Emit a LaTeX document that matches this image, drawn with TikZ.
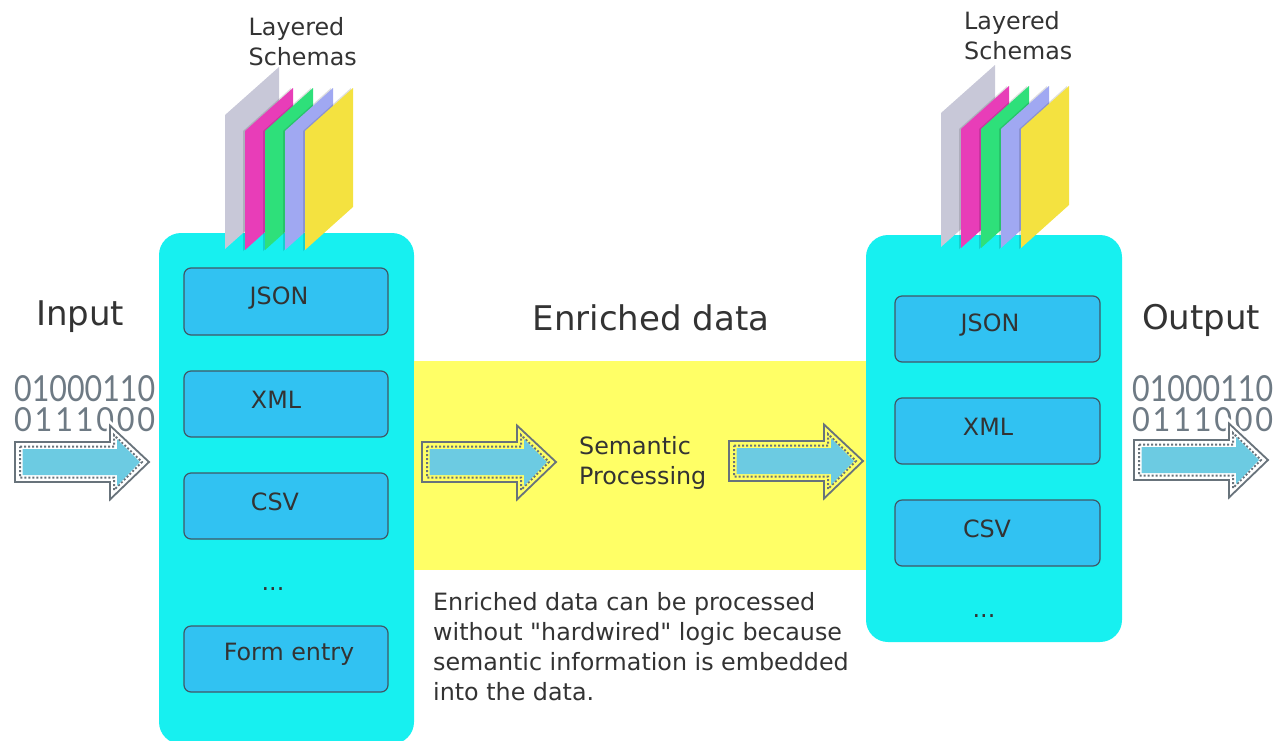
\documentclass[tikz,border=0pt]{standalone}
\usepackage{fontspec}
\usepackage{graphicx}
\newfontfamily\dejavu{DejaVu Sans}
\newfontfamily\binfont{Lato}
\definecolor{boxcyan}{HTML}{17F0F0}
\definecolor{innerblue}{HTML}{31C2F2}
\definecolor{innerline}{HTML}{3F5866}
\definecolor{bandyellow}{HTML}{FFFF66}
\definecolor{inktext}{HTML}{333333}
\definecolor{arrowline}{HTML}{68737B}
\definecolor{arrowblue}{HTML}{6CCBE2}
\definecolor{bingray}{HTML}{6E7A84}
\definecolor{pgray}{HTML}{C8C8D8}
\definecolor{pmagenta}{HTML}{E83DB8}
\definecolor{pgreen}{HTML}{2EE07A}
\definecolor{pblue}{HTML}{A0A8F2}
\definecolor{pyellow}{HTML}{F4E240}
\tikzset{
  container/.style={fill=boxcyan,draw=none,rounded corners=22pt},
  format/.style={draw=innerline,line width=1.2pt,fill=innerblue,rounded corners=7pt},
  label/.style={text=inktext,inner sep=0pt,font=\dejavu\fontsize{23.8}{30}\selectfont,align=left},
  title/.style={text=inktext,inner sep=0pt,font=\dejavu\fontsize{34}{40}\selectfont},
  sheetshadow/.style={fill=black,fill opacity=.13,draw=none},
  bintext/.style={text=bingray,inner sep=0pt,anchor=north west},
  whitehalo/.style={draw=white,line width=7pt,line join=miter},
  nohalo/.style={draw=none}
}
\newcommand{\layerstack}[2]{%
  \begin{scope}[shift={(#1,#2)}]
    \fill[pgray] (225,115) -- (279,67) -- (279,201) -- (225,249) -- cycle;
    \foreach \dx/\col in {0/pmagenta,20/pgreen,40/pblue,60/pyellow}{
      \fill[sheetshadow,shift={(\dx,0)}] (243,131) -- (291,88) -- (291,208) -- (243,251) -- cycle;
      \fill[\col,shift={(\dx,0)}] (245,131) -- (293,88) -- (293,207) -- (245,250) -- cycle;
    }
  \end{scope}}
\newcommand{\dataarrow}[4]{%
  \begin{scope}[shift={(#1,#2)}]
    \path[#4] (95,-20) -- (95,-37) -- (134,0) -- (95,38) -- (95,20);
    \draw[arrowline,line width=1.8pt,fill=#3,line join=miter]
      (0,-20) -- (95,-20) -- (95,-36.5) -- (134,0) -- (95,37.5) -- (95,20) -- (0,20) -- cycle;
    \draw[arrowline,line width=2pt,dash pattern=on 2pt off 2pt]
      (5,-15.5) -- (99,-15.5) -- (99,-27) -- (127,0) -- (99,28) -- (99,15.5) -- (5,15.5) -- cycle;
    \fill[arrowblue]
      (7.5,-13) -- (102,-13) -- (102,-23) -- (125,0) -- (102,24) -- (102,13) -- (7.5,13) -- cycle;
  \end{scope}}
\newcommand{\binrows}[2]{%
  \node[bintext] (#1a) at (#2,375) {\resizebox{141pt}{26pt}{\binfont 01000110}};
  \node[bintext] (#1b) at (#2,407) {\resizebox{141pt}{24pt}{\binfont\hbox to 4.6em{0\hfill 1\hfill 1\hfill 1\hfill 0\hfill 0\hfill 0}}};}
\begin{document}
\begin{tikzpicture}[x=1pt,y=-1pt]
\useasboundingbox (0,0) rectangle (1278,740);
\begin{scope}
\clip (0,0) rectangle (1278,740);
\fill[container] (159,233) rectangle (414,744);
\end{scope}
\fill[container] (866,235) rectangle (1122,642);
\fill[bandyellow] (414,361) rectangle (866,570);

\layerstack{0}{0}
\layerstack{716}{-2}

\foreach \nm/\yt/\yb in {la/268/335,lb/371/437,lc/473/539,ld/626/692}
  \draw[format] (184,\yt) rectangle (388,\yb);
\foreach \nm/\yt/\yb in {ra/296/362,rb/398/464,rc/500/566}
  \draw[format] (895,\yt) rectangle (1100,\yb);

\node[label] (ljson) at (279,298) {JSON};
\node[label] (lxml) at (276,400) {XML};
\node[label] (lcsv) at (275,501.5) {CSV};
\node[label] (ldots) at (273,589) {...};
\node[label] (lform) at (289,654) {Form entry};
\node[label] (rjson) at (990,325) {JSON};
\node[label] (rxml) at (988,427) {XML};
\node[label] (rcsv) at (987,528.5) {CSV};
\node[label] (rdots) at (984,616) {...};

\node[label,anchor=west] (lschema) at (248.5,42) {Layered\\Schemas};
\node[label,anchor=west] (rschema) at (964,36) {Layered\\Schemas};
\node[label,anchor=west] (semantic) at (579,463) {Semantic\\Processing};
\node[label,anchor=west] (note) at (433,647) {Enriched data can be processed\\without "hardwired" logic because\\semantic information is embedded\\into the data.};

\node[title,anchor=west] (input) at (36,317) {Input};
\node[title] (enriched) at (651,318) {Enriched data};
\node[title,anchor=west] (output) at (1142,320) {Output};

\binrows{lbin}{14}
\binrows{rbin}{1132}

\dataarrow{15}{462}{white}{whitehalo}
\dataarrow{422}{462}{bandyellow}{nohalo}
\dataarrow{729}{461}{bandyellow}{nohalo}
\dataarrow{1134}{460}{white}{whitehalo}
\end{tikzpicture}
\end{document}
